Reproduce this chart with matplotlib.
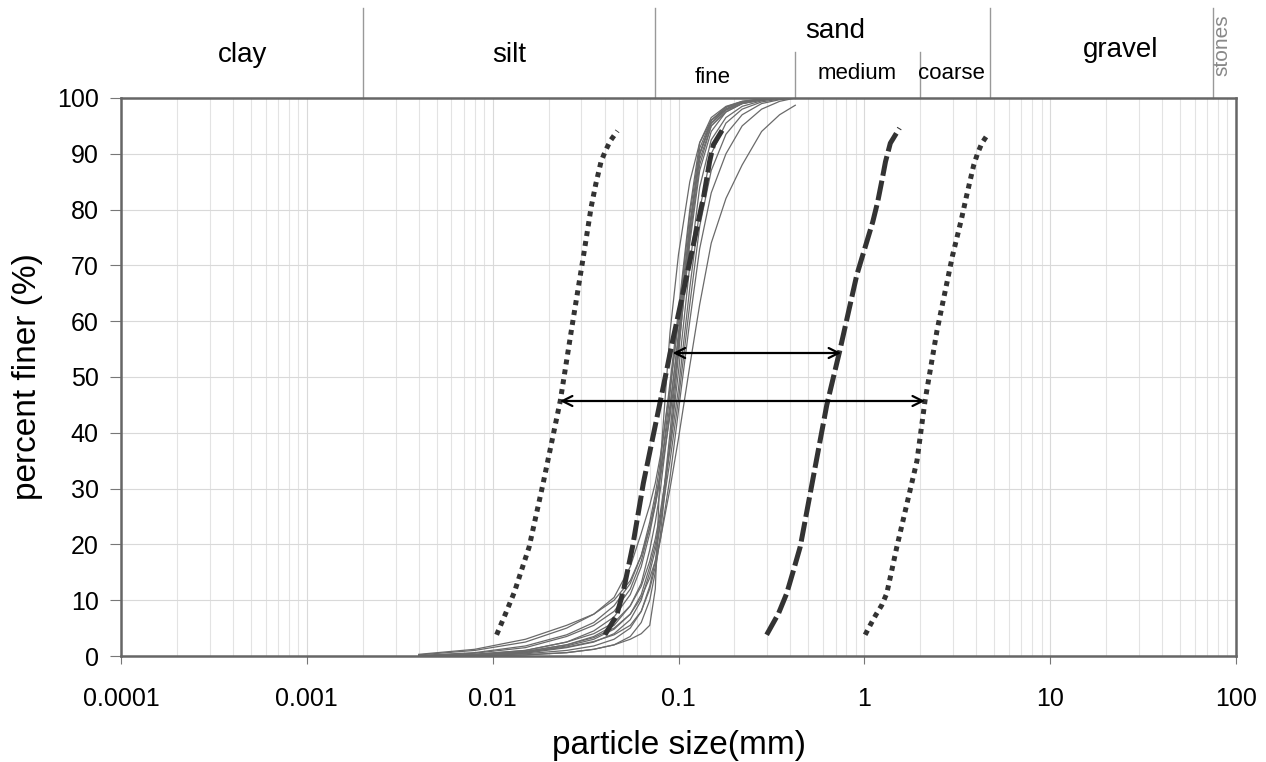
import numpy as np
import matplotlib
matplotlib.use("Agg")
import matplotlib.pyplot as plt
import matplotlib.transforms as mtransforms

plt.rcParams['font.family'] = ['Liberation Sans', 'DejaVu Sans']

# sieve sizes (mm) used for the sample curves
sizes = [0.004, 0.008, 0.015, 0.025, 0.035, 0.045, 0.055, 0.063, 0.07, 0.075, 0.08,
         0.09, 0.1, 0.115, 0.13, 0.15, 0.18, 0.22, 0.28, 0.35, 0.425]

# percent finer of each sample
samples = [
    [0, 0, 0.2, 0.6, 1.2, 2, 3, 4, 5.5, 12, 35, 58, 72, 85, 92, 96, 98, 99.2, 99.8, 100, 100],
    [0, 0.2, 0.8, 2, 3.5, 5.5, 9, 13, 19, 24, 30, 44, 58, 77, 89, 95, 97.5, 99, 99.7, 100, 100],
    [0, 0.5, 1.5, 3.5, 5.5, 8, 12, 17, 23, 28, 33, 45, 57, 75, 88, 95, 97.8, 99, 99.7, 100, 100],
    [0.2, 1, 2.5, 5, 7.5, 10.5, 16, 22, 27, 31, 36, 48, 60, 77, 90, 96, 98.3, 99.3, 99.8, 100, 100],
    [0, 0.3, 1, 2.5, 4, 6, 9, 12.5, 17, 21, 26, 37, 48, 66, 80, 90, 95.5, 98, 99.3, 99.8, 100],
    [0, 0.1, 0.5, 1.5, 2.5, 4, 6.5, 10, 15, 19, 24, 35, 46, 63, 77, 87, 93.5, 97, 99, 99.7, 100],
    [0, 0.2, 0.8, 2, 3.3, 5, 7.5, 10.5, 14, 17, 21, 30, 39, 52, 63, 74, 82, 88, 94, 97, 98.7],
    [0, 0, 0.2, 0.6, 1.2, 2, 3.5, 6, 10, 15, 22, 38, 54, 76, 90, 95.5, 98, 99.2, 99.8, 100, 100],
    [0.3, 1.2, 3, 5.5, 7.5, 10, 13.5, 18, 23, 27, 32, 43, 55, 74, 87, 94, 97.5, 99, 99.6, 100, 100],
    [0, 0.3, 1, 2.5, 4.5, 7, 11, 16, 22, 27, 33, 47, 61, 79, 91, 96, 98.4, 99.4, 99.8, 100, 100],
    [0, 0.1, 0.6, 1.8, 3, 4.8, 7.5, 11, 16, 20, 25, 38, 51, 70, 84, 92.5, 96.5, 98.5, 99.5, 100, 100],
    [0, 0.2, 0.7, 1.6, 2.6, 3.8, 5.5, 8, 12, 16, 21, 32, 44, 60, 73, 83, 90, 95, 98, 99.4, 100],
    [0, 0, 0.4, 1, 1.8, 3, 5, 8, 12.5, 17, 24, 40, 56, 77, 90, 95.5, 98, 99.3, 99.8, 100, 100],
    [0.1, 0.6, 1.8, 3.8, 6, 9, 13, 18, 24, 29, 35, 49, 62, 80, 92, 96.5, 98.5, 99.4, 99.8, 100, 100],
]

# envelope curves
fine_dot_x = [0.0105, 0.0118, 0.0131, 0.0143, 0.0157, 0.0187, 0.0231, 0.0267, 0.0308,
              0.0339, 0.0359, 0.0383, 0.0404, 0.0429, 0.0469]
fine_dot_y = [3.8, 7.8, 11.5, 15.4, 19.5, 31.0, 45.7, 59.0, 71.7,
              80.5, 84.6, 88.6, 90.5, 92.3, 94.1]
fine_dash_x = [0.0402, 0.0465, 0.0506, 0.0566, 0.0647, 0.083, 0.0927, 0.111, 0.137,
               0.147, 0.154, 0.1745]
fine_dash_y = [3.8, 7.3, 11.8, 19.6, 31.0, 48.4, 56.3, 68.3, 82.6,
               88.6, 91.6, 94.6]
med_dash_x = [0.298, 0.345, 0.382, 0.416, 0.452, 0.628, 0.741, 0.911, 1.11, 1.18,
              1.25, 1.30, 1.38, 1.546]
med_dash_y = [3.8, 7.6, 11.2, 15.4, 19.6, 45.0, 55.0, 68.3, 77.8, 81.4,
              85.6, 88.6, 91.9, 94.6]
coarse_dot_x = [1.01, 1.07, 1.15, 1.24, 1.32, 1.40, 1.49, 1.92, 2.12, 2.46, 2.98,
                3.32, 3.54, 3.75, 3.88, 4.07, 4.29, 4.66]
coarse_dot_y = [3.8, 5.4, 7.3, 9.1, 11.2, 15.1, 19.3, 35.0, 45.7, 58.3, 71.7,
                78.1, 82.3, 85.9, 88.0, 90.1, 91.9, 93.7]

# double arrows (y, x_start, x_end)
arrows = [(54.3, 0.093, 0.75), (45.7, 0.023, 2.12)]

# soil classes header
major_bounds = [0.002, 0.075, 4.75, 75]
sand_bounds = [0.425, 2.0]
major_labels = [("clay", 0.00045, 1.077), ("silt", 0.0123, 1.077),
                ("sand", 0.70, 1.12), ("gravel", 23.8, 1.086)]
sand_labels = [("fine", 0.152, 1.036), ("medium", 0.91, 1.043), ("coarse", 2.93, 1.043)]

fig = plt.figure(figsize=(12.66, 7.62), dpi=100)
ax = fig.add_axes([0.0956, 0.1391, 0.8807, 0.7323])

ax.set_xscale('log')
ax.set_xlim(0.0001, 100)
ax.set_ylim(0, 100)

ax.grid(True, which='major', axis='both', color='#d9d9d9', lw=0.8)
ax.grid(True, which='minor', axis='x', color='#e3e3e3', lw=0.8)
ax.set_yticks(np.arange(0, 101, 10))
ax.set_xticks([0.0001, 0.001, 0.01, 0.1, 1, 10, 100])
ax.set_xticklabels(['0.0001', '0.001', '0.01', '0.1', '1', '10', '100'])
ax.tick_params(axis='x', which='minor', length=0)
ax.tick_params(axis='x', which='major', length=6, pad=16, labelsize=18, color='#777777')
ax.tick_params(axis='y', length=8, pad=8, labelsize=18, color='#777777')
for s in ax.spines.values():
    s.set_color('#666666')
    s.set_linewidth(1.8)

for row in samples:
    ax.plot(sizes, row, color='#6a6a6a', lw=0.9)

ax.plot(fine_dot_x, fine_dot_y, color='#333333', lw=3.6, ls=(0, (1, 1)))
ax.plot(coarse_dot_x, coarse_dot_y, color='#333333', lw=3.6, ls=(0, (1, 1)))
ax.plot(fine_dash_x, fine_dash_y, color='#333333', lw=3.6, ls=(0, (4, 1)))
ax.plot(med_dash_x, med_dash_y, color='#333333', lw=3.6, ls=(0, (4, 1)))

for yv, x0, x1 in arrows:
    ax.annotate('', xy=(x1, yv), xytext=(x0, yv),
                arrowprops=dict(arrowstyle='<->', color='black', lw=1.6,
                                mutation_scale=18, shrinkA=0, shrinkB=0))

ax.set_xlabel('particle size(mm)', fontsize=24, labelpad=14)
ax.set_ylabel('percent finer (%)', fontsize=24, labelpad=10)

# header above plot
trans = mtransforms.blended_transform_factory(ax.transData, ax.transAxes)
for b in major_bounds:
    ax.plot([b, b], [1.0, 1.161], transform=trans, color='#999999', lw=1, clip_on=False)
for b in sand_bounds:
    ax.plot([b, b], [1.0, 1.082], transform=trans, color='#999999', lw=1, clip_on=False)
for txt, xv, yv in major_labels:
    ax.text(xv, yv, txt, transform=trans, ha='center', va='center', fontsize=20)
for txt, xv, yv in sand_labels:
    ax.text(xv, yv, txt, transform=trans, ha='center', va='center', fontsize=16)
ax.text(84, 1.095, 'stones', transform=trans, ha='center', va='center',
        fontsize=15, rotation=90, color='#888888')

fig.savefig('out.png', dpi=100)
